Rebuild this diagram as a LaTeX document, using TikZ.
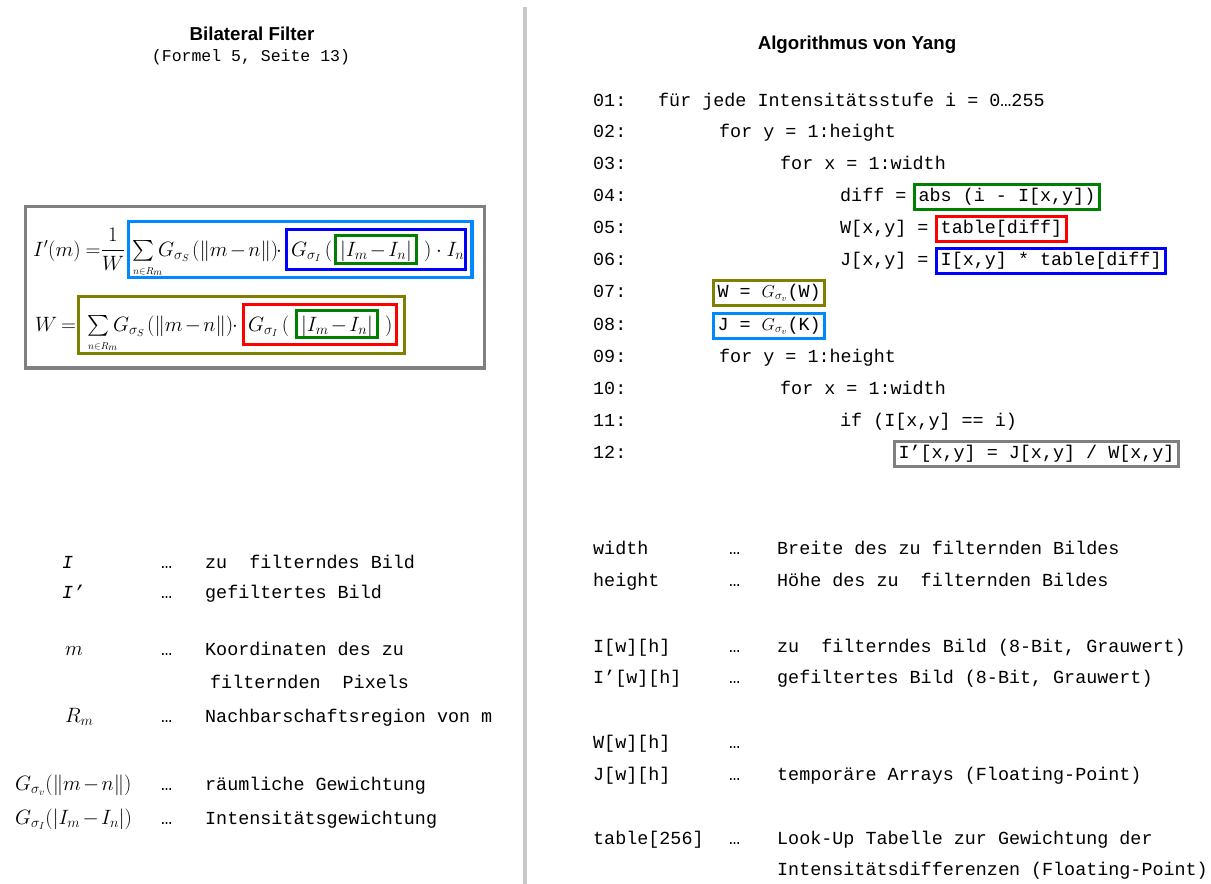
\documentclass[tikz,border=0pt]{standalone}
\usepackage{amsmath}
\usepackage{fontspec}
\setsansfont{Liberation Sans}
\setmonofont{Liberation Mono}
\usetikzlibrary{positioning}

\definecolor{cgray}{RGB}{128,128,128}
\definecolor{cdiv}{RGB}{200,200,200}
\definecolor{clblue}{RGB}{0,136,255}
\definecolor{cblue}{RGB}{0,0,255}
\definecolor{cgreen}{RGB}{0,128,0}
\definecolor{cred}{RGB}{255,0,0}
\definecolor{colive}{RGB}{128,128,0}

\newcommand{\codefont}{\ttfamily\fontsize{18.4}{22}\selectfont}
\newcommand{\subfont}{\ttfamily\fontsize{16.5}{19}\selectfont}
\newcommand{\headfont}{\sffamily\bfseries\fontsize{18.7}{22}\selectfont}
\newcommand{\formfont}{\fontsize{20}{24}\selectfont}
\newcommand{\absdiff}{|I_m\mskip2mu{-}\mskip2mu I_n|}

\tikzset{
    code/.style={font=\codefont, inner sep=0pt, anchor=base west},
    form/.style={font=\formfont, inner sep=0pt, anchor=base west},
    codebox/.style={draw=#1, line width=3pt, font=\codefont, inner xsep=4pt,
        inner ysep=4pt, text height=13pt, text depth=4pt, anchor=base west},
    frame/.style={draw=#1, line width=3.5pt},
    head/.style={font=\headfont, inner sep=0pt, anchor=base}
}

\begin{document}
\begin{tikzpicture}[x=1pt,y=-1pt]
    \useasboundingbox (0,0) rectangle (1211,884);
    % divider
    \fill[cdiv] (523,7) rectangle (527,884);

    % titles
    \node[head] (title1) at (252,40) {Bilateral Filter};
    \node[font=\subfont, inner sep=0pt, anchor=base] (sub1) at (251,61) {(Formel 5, Seite 13)};
    \node[head] (title2) at (857,49) {Algorithmus von Yang};

    % formula frames
    \draw[frame=cgray] (25.5,206.5) rectangle (484.5,368);
    \draw[frame=clblue] (128.5,221.5) rectangle (472,277.5);
    \draw[frame=cblue] (286.5,229.5) rectangle (465.5,269.5);
    \draw[frame=cgreen] (335.5,235.5) rectangle (416.5,263.5);
    \draw[frame=colive] (78.5,296.5) rectangle (404.5,353.5);
    \draw[frame=cred] (243.5,304.5) rectangle (396.5,344.5);
    \draw[frame=cgreen] (296.5,310.5) rectangle (377.5,337.5);

    % formula line 1
    \node[form] (f1lhs) at (33,256) {$I'(m)$};
    \node[form] (f1eq) at (85.5,256) {$=$};
    \node[form, anchor=base] (f1frac) at (113,256) {$\dfrac{1}{W}$};
    \node[form] (f1sum) at (132,256) {$\sum$};
    \node[form] (f1sub) at (133,274) {$\scriptscriptstyle n\in R_m$};
    \node[form] (f1gs) at (158,256) {$G_{\sigma_S}$};
    \node[form] (f1dist) at (192,256) {$(\|m\mskip2mu{-}\mskip2mu n\|)$};
    \node[form, anchor=base] (f1dot) at (279,256) {$\cdot$};
    \node[form] (f1gi) at (291,256) {$G_{\sigma_I}\,($};
    \node[form, anchor=base] (f1abs) at (376,256) {$\absdiff$};
    \node[form] (f1tail) at (424,256) {$)\cdot I_n$};

    % formula line 2
    \node[form] (f2lhs) at (35,331) {$W$};
    \node[form] (f2eq) at (61,331) {$=$};
    \node[form] (f2sum) at (87,331) {$\sum$};
    \node[form] (f2sub) at (88,349) {$\scriptscriptstyle n\in R_m$};
    \node[form] (f2gs) at (113,331) {$G_{\sigma_S}$};
    \node[form] (f2dist) at (147,331) {$(\|m\mskip2mu{-}\mskip2mu n\|)$};
    \node[form, anchor=base] (f2dot) at (235,331) {$\cdot$};
    \node[form] (f2gi) at (248,331) {$G_{\sigma_I}\,($};
    \node[form, anchor=base] (f2abs) at (337,331) {$\absdiff$};
    \node[form] (f2close) at (385,331) {$)$};

    % line numbers
    \foreach \n/\y in {01/106,02/137,03/169,04/201,05/233,06/265,07/297,08/330,09/362,10/394,11/426,12/458}
        \node[code] (n\n) at (593,\y) {\n:};

    % code
    \node[code] (c01) at (658,106) {für jede Intensitätsstufe i = 0…255};
    \node[code] (c02) at (719,137) {for y = 1:height};
    \node[code] (c03) at (780,169) {for x = 1:width};
    \node[code] (c04) at (840,201) {diff =};
    \node[codebox=cgreen, base right=6.5pt of c04] (b04) {abs (i - I[x,y])};
    \node[code] (c05) at (840,233) {W[x,y] =};
    \node[codebox=cred, base right=6.5pt of c05] (b05) {table[diff]};
    \node[code] (c06) at (840,265) {J[x,y] =};
    \node[codebox=cblue, base right=6.5pt of c06] (b06) {I[x,y] * table[diff]};
    \node[codebox=colive] (b07) at (712,297) {W = $G_{\sigma_v}$(W)};
    \node[codebox=clblue] (b08) at (712,330) {J = $G_{\sigma_v}$(K)};
    \node[code] (c09) at (719,362) {for y = 1:height};
    \node[code] (c10) at (780,394) {for x = 1:width};
    \node[code] (c11) at (840,426) {if (I[x,y] == i)};
    \node[codebox=cgray] (b12) at (893,458) {I’[x,y] = J[x,y] / W[x,y]};

    % legend left
    \node[code, font=\codefont\itshape] (lI) at (62,568) {I};
    \node[code, font=\codefont\itshape] (lIp) at (62,598) {I’};
    \node[form] (lm) at (65,655) {$m$};
    \node[form] (lR) at (65,722) {$R_m$};
    \node[form] (lGv) at (15,790) {$G_{\sigma_v}(\|m\mskip2mu{-}\mskip2mu n\|)$};
    \node[form] (lGi) at (15,824) {$G_{\sigma_I}(\absdiff)$};
    \foreach \y/\nm in {568/1,598/2,655/3,722/4,790/5,824/6}
        \node[code] (ld\nm) at (161,\y) {…};
    \node[code] (lt1) at (205,568) {zu~~filterndes~Bild};
    \node[code] (lt2) at (205,598) {gefiltertes Bild};
    \node[code] (lt3) at (205,655) {Koordinaten des zu};
    \node[code] (lt3b) at (210,688) {filternden~~Pixels};
    \node[code] (lt4) at (205,722) {Nachbarschaftsregion von m};
    \node[code] (lt5) at (205,790) {räumliche Gewichtung};
    \node[code] (lt6) at (205,824) {Intensitätsgewichtung};

    % legend right
    \node[code] (rw) at (593,554) {width};
    \node[code] (rh) at (593,586) {height};
    \node[code] (rI) at (593,652) {I[w][h]};
    \node[code] (rIp) at (593,683) {I’[w][h]};
    \node[code] (rW) at (593,748) {W[w][h]};
    \node[code] (rJ) at (593,780) {J[w][h]};
    \node[code] (rt) at (593,844) {table[256]};
    \foreach \y/\nm in {554/1,586/2,652/3,683/4,748/5,780/6,844/7}
        \node[code] (rd\nm) at (729,\y) {…};
    \node[code] (rt1) at (777,554) {Breite des zu filternden Bildes};
    \node[code] (rt2) at (777,586) {Höhe des zu~~filternden Bildes};
    \node[code] (rt3) at (777,652) {zu~~filterndes Bild (8-Bit, Grauwert)};
    \node[code] (rt4) at (777,683) {gefiltertes Bild (8-Bit, Grauwert)};
    \node[code] (rt6) at (777,780) {temporäre Arrays (Floating-Point)};
    \node[code] (rt7) at (777,844) {Look-Up Tabelle zur Gewichtung der};
    \node[code] (rt7b) at (777,875) {Intensitätsdifferenzen (Floating-Point)};
\end{tikzpicture}
\end{document}
